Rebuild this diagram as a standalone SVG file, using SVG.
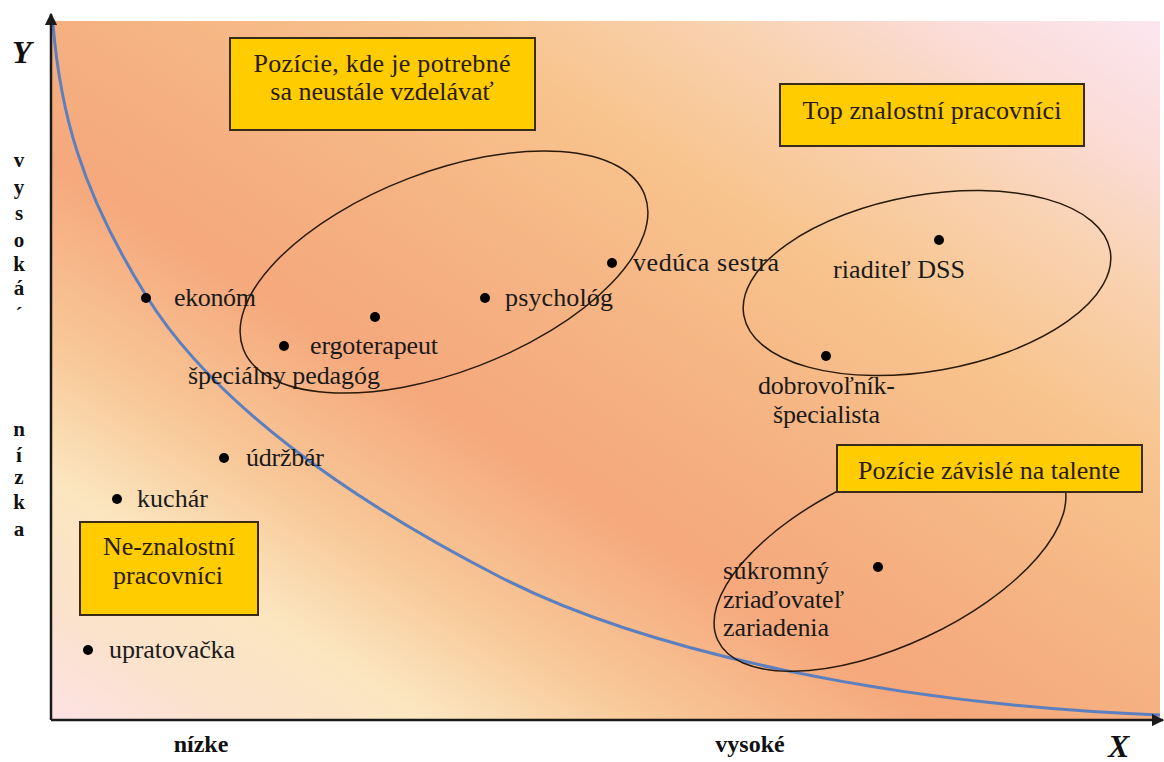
<svg xmlns="http://www.w3.org/2000/svg" width="1164" height="762" viewBox="0 0 1164 762">
<defs>
<linearGradient id="bg" x1="0" y1="1" x2="1" y2="0">
<stop offset="0" stop-color="#fde2e4"/>
<stop offset="0.08" stop-color="#fbe2cc"/>
<stop offset="0.17" stop-color="#fbe6c0"/>
<stop offset="0.27" stop-color="#f8c898"/>
<stop offset="0.4" stop-color="#f5a87c"/>
<stop offset="0.52" stop-color="#f5b282"/>
<stop offset="0.68" stop-color="#f8c48e"/>
<stop offset="0.8" stop-color="#f9d2b0"/>
<stop offset="0.9" stop-color="#fbdcd8"/>
<stop offset="1" stop-color="#fce6f0"/>
</linearGradient>
<marker id="arr" viewBox="0 0 10 10" refX="9" refY="5" markerWidth="5" markerHeight="5" orient="auto" markerUnits="strokeWidth">
<path d="M0,0 L10,5 L0,10 z" fill="#1a1a1a"/>
</marker>
</defs>
<style>
.lbl{font-family:"Liberation Serif",serif;font-size:26px;fill:#1a1a1a}
.box{fill:#ffcc00;stroke:#3a2a1a;stroke-width:2}
.bt{font-family:"Liberation Serif",serif;font-size:26px;fill:#2a1a0a;text-anchor:middle}
.ax{font-family:"Liberation Serif",serif;font-weight:bold;font-size:21px;fill:#111;text-anchor:middle}
.axl{font-family:"Liberation Serif",serif;font-weight:bold;font-size:24px;fill:#111;text-anchor:middle}
.big{font-family:"Liberation Serif",serif;font-weight:bold;font-style:italic;font-size:32px;fill:#111}
.dot{fill:#000}
.ell{fill:none;stroke:#2a1a0a;stroke-width:1.5}
</style>
<rect x="0" y="0" width="1164" height="762" fill="#ffffff"/>
<rect x="52" y="21" width="1108" height="698" fill="url(#bg)"/>

<g id="connectors">
<path id="curve" d="M53,24 C60,110 80,190 147,297 C214,404 350,500 500,577 C650,654 900,705 1160,715" fill="none" stroke="#5b7fbf" stroke-width="3"/>
<line x1="51" y1="720" x2="51" y2="14" stroke="#1a1a1a" stroke-width="2.5" marker-end="url(#arr)"/>
<line x1="51" y1="720" x2="1163" y2="720" stroke="#1a1a1a" stroke-width="2.5" marker-end="url(#arr)"/>
</g>

<g id="axis-labels">
<text class="big" x="12" y="63">Y</text>
<text class="big" x="1108" y="757">X</text>
<text class="axl" x="201" y="752">nízke</text>
<text class="axl" x="750" y="752">vysoké</text>
<text class="ax" x="19" y="167">v</text>
<text class="ax" x="19" y="194">y</text>
<text class="ax" x="19" y="220">s</text>
<text class="ax" x="19" y="247">o</text>
<text class="ax" x="19" y="271">k</text>
<text class="ax" x="19" y="295">á</text>
<text class="ax" x="19" y="322" font-size="16">´</text>
<text class="ax" x="19" y="436">n</text>
<text class="ax" x="19" y="462">í</text>
<text class="ax" x="19" y="484">z</text>
<text class="ax" x="19" y="509">k</text>
<text class="ax" x="19" y="536">a</text>
</g>

<g id="ellipse-learning"><ellipse class="ell" cx="444" cy="272" rx="215" ry="100" transform="rotate(-21 444 272)"/></g>
<g id="ellipse-top"><ellipse class="ell" cx="927" cy="283" rx="186" ry="88" transform="rotate(-10 927 283)"/></g>
<g id="ellipse-talent"><ellipse class="ell" cx="890" cy="560" rx="190" ry="85" transform="rotate(-25 890 560)"/></g>

<g id="box-learning">
<rect class="box" x="230" y="38" width="305" height="92"/>
<text class="bt" x="382" y="72" textLength="257">Pozície, kde je potrebné</text>
<text class="bt" x="382" y="100">sa neustále vzdelávať</text>
</g>
<g id="box-top">
<rect class="box" x="780" y="84" width="304" height="62"/>
<text class="bt" x="932" y="119" textLength="259">Top znalostní pracovníci</text>
</g>
<g id="box-talent">
<rect class="box" x="837" y="445" width="305" height="47"/>
<text class="bt" x="989" y="479" textLength="262">Pozície závislé na talente</text>
</g>
<g id="box-non">
<rect class="box" x="80" y="522" width="178" height="93"/>
<text class="bt" x="169" y="555" textLength="132">Ne-znalostní</text>
<text class="bt" x="168" y="584" textLength="110">pracovníci</text>
</g>

<g id="n-ekonom"><circle class="dot" cx="146" cy="298" r="5"/><text class="lbl" x="174" y="306" textLength="82">ekonóm</text></g>
<g id="n-ergo"><circle class="dot" cx="284" cy="346" r="5"/><text class="lbl" x="310" y="354" textLength="128">ergoterapeut</text></g>
<g id="n-spec"><circle class="dot" cx="375" cy="317" r="5"/><text class="lbl" x="188" y="384" textLength="192">špeciálny pedagóg</text></g>
<g id="n-psych"><circle class="dot" cx="485" cy="298" r="5"/><text class="lbl" x="505" y="306" textLength="108">psychológ</text></g>
<g id="n-veduca"><circle class="dot" cx="612" cy="263" r="5"/><text class="lbl" x="633" y="271" textLength="146">vedúca sestra</text></g>
<g id="n-riaditel"><circle class="dot" cx="939" cy="240" r="5"/><text class="lbl" x="833" y="278" textLength="132">riaditeľ DSS</text></g>
<g id="n-dobro"><circle class="dot" cx="826" cy="356" r="5"/><text class="lbl" x="758" y="394" textLength="137">dobrovoľník-</text><text class="lbl" x="773" y="423" textLength="107">špecialista</text></g>
<g id="n-sukromny"><circle class="dot" cx="878" cy="567" r="5"/><text class="lbl" x="723" y="579" textLength="106">súkromný</text><text class="lbl" x="723" y="608" textLength="121">zriaďovateľ</text><text class="lbl" x="723" y="636" textLength="106">zariadenia</text></g>
<g id="n-udrzbar"><circle class="dot" cx="224" cy="458" r="5"/><text class="lbl" x="246" y="466" textLength="78">údržbár</text></g>
<g id="n-kuchar"><circle class="dot" cx="117" cy="499" r="5"/><text class="lbl" x="137" y="507" textLength="71">kuchár</text></g>
<g id="n-uprat"><circle class="dot" cx="88" cy="650" r="5"/><text class="lbl" x="109" y="658" textLength="126">upratovačka</text></g>
</svg>
